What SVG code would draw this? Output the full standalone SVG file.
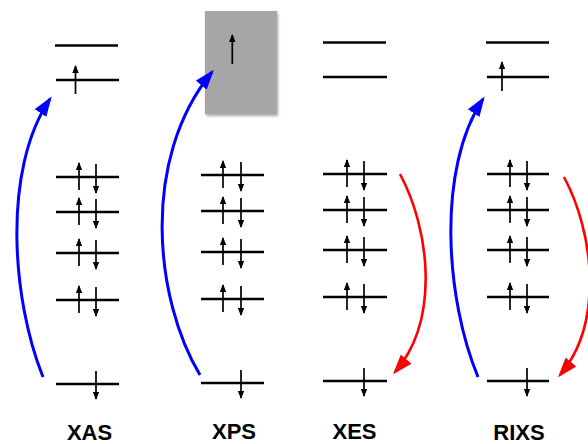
<svg xmlns="http://www.w3.org/2000/svg" width="588" height="444" viewBox="0 0 588 444">
<style>
.lv{stroke:#000;stroke-width:2.6;fill:none}
.sp{stroke:#000;stroke-width:1.7;fill:none;marker-end:url(#sh)}
.bl{stroke:#0000ff;stroke-width:3;fill:none;marker-end:url(#hb)}
.rd{stroke:#ff0000;stroke-width:2.6;fill:none;marker-end:url(#hr)}
.lb{font-family:"Liberation Sans",Arial,sans-serif;font-weight:bold;font-size:22px;fill:#000;text-anchor:middle}
</style>
<defs>
<marker id="sh" markerUnits="userSpaceOnUse" viewBox="0 0 8 6.5" markerWidth="8" markerHeight="6.5" refX="7" refY="3.25" orient="auto"><path d="M0,0 L8,3.25 L0,6.5 z" fill="#000"/></marker>
<marker id="hb" markerUnits="userSpaceOnUse" viewBox="0 0 20 14" markerWidth="20" markerHeight="14" refX="17" refY="7" orient="auto"><path d="M0,0 L20,7 L0,14 z" fill="#0000ff"/></marker>
<marker id="hr" markerUnits="userSpaceOnUse" viewBox="0 0 20 14" markerWidth="20" markerHeight="14" refX="17" refY="7" orient="auto"><path d="M0,0 L20,7 L0,14 z" fill="#ff0000"/></marker>
<filter id="ds" x="-20%" y="-20%" width="140%" height="140%"><feDropShadow dx="1" dy="2" stdDeviation="1.5" flood-color="#000" flood-opacity="0.35"/></filter>
</defs>

<g id="xas">
<line class="lv" x1="55" y1="45.5" x2="118" y2="45.5"/>
<line class="lv" x1="56" y1="80" x2="119" y2="80"/>
<line class="sp" x1="75.5" y1="94" x2="75.5" y2="66"/>
<line class="lv" x1="56" y1="177" x2="119" y2="177"/>
<line class="sp" x1="79" y1="190" x2="79" y2="163"/><line class="sp" x1="96" y1="164" x2="96" y2="193"/>
<line class="lv" x1="56" y1="212" x2="119" y2="212"/>
<line class="sp" x1="79" y1="225" x2="79" y2="198"/><line class="sp" x1="96" y1="199" x2="96" y2="228"/>
<line class="lv" x1="56" y1="253" x2="119" y2="253"/>
<line class="sp" x1="79" y1="266" x2="79" y2="239"/><line class="sp" x1="96" y1="240" x2="96" y2="269"/>
<line class="lv" x1="56" y1="300" x2="119" y2="300"/>
<line class="sp" x1="79" y1="313" x2="79" y2="286"/><line class="sp" x1="96" y1="287" x2="96" y2="316"/>
<line class="lv" x1="56" y1="384" x2="119" y2="384"/>
<line class="sp" x1="96" y1="371" x2="96" y2="399"/>
<text class="lb" x="89.5" y="440">XAS</text>
</g>

<g id="xps">
<rect x="205" y="11" width="72" height="103" fill="#a6a6a6" filter="url(#ds)"/>
<line class="sp" x1="232.3" y1="64" x2="232.3" y2="35"/>
<line class="lv" x1="201" y1="175" x2="264" y2="175"/>
<line class="sp" x1="223" y1="188" x2="223" y2="161"/><line class="sp" x1="241" y1="162" x2="241" y2="191"/>
<line class="lv" x1="201" y1="211" x2="264" y2="211"/>
<line class="sp" x1="223" y1="224" x2="223" y2="197"/><line class="sp" x1="241" y1="198" x2="241" y2="227"/>
<line class="lv" x1="201" y1="252" x2="264" y2="252"/>
<line class="sp" x1="223" y1="265" x2="223" y2="238"/><line class="sp" x1="241" y1="239" x2="241" y2="268"/>
<line class="lv" x1="201" y1="299" x2="264" y2="299"/>
<line class="sp" x1="223" y1="312" x2="223" y2="285"/><line class="sp" x1="241" y1="286" x2="241" y2="315"/>
<line class="lv" x1="201" y1="383" x2="264" y2="383"/>
<line class="sp" x1="241" y1="370" x2="241" y2="398"/>
<text class="lb" x="234" y="439">XPS</text>
</g>

<g id="xes">
<line class="lv" x1="323" y1="42.5" x2="386" y2="42.5"/>
<line class="lv" x1="323" y1="77" x2="387" y2="77"/>
<line class="lv" x1="323" y1="174" x2="387" y2="174"/>
<line class="sp" x1="347" y1="187" x2="347" y2="160"/><line class="sp" x1="364" y1="161" x2="364" y2="190"/>
<line class="lv" x1="323" y1="210" x2="387" y2="210"/>
<line class="sp" x1="347" y1="223" x2="347" y2="196"/><line class="sp" x1="364" y1="197" x2="364" y2="226"/>
<line class="lv" x1="323" y1="250" x2="387" y2="250"/>
<line class="sp" x1="347" y1="263" x2="347" y2="236"/><line class="sp" x1="364" y1="237" x2="364" y2="266"/>
<line class="lv" x1="323" y1="297" x2="387" y2="297"/>
<line class="sp" x1="347" y1="310" x2="347" y2="283"/><line class="sp" x1="364" y1="284" x2="364" y2="313"/>
<line class="lv" x1="323" y1="381" x2="387" y2="381"/>
<line class="sp" x1="364" y1="368" x2="364" y2="396"/>
<text class="lb" x="354.5" y="439">XES</text>
</g>

<g id="rixs">
<line class="lv" x1="486" y1="42.5" x2="549" y2="42.5"/>
<line class="lv" x1="487" y1="77" x2="549" y2="77"/>
<line class="sp" x1="502" y1="91" x2="502" y2="62"/>
<line class="lv" x1="487" y1="174" x2="549" y2="174"/>
<line class="sp" x1="510" y1="187" x2="510" y2="160"/><line class="sp" x1="527" y1="161" x2="527" y2="190"/>
<line class="lv" x1="487" y1="210" x2="549" y2="210"/>
<line class="sp" x1="510" y1="223" x2="510" y2="196"/><line class="sp" x1="527" y1="197" x2="527" y2="226"/>
<line class="lv" x1="487" y1="250" x2="549" y2="250"/>
<line class="sp" x1="510" y1="263" x2="510" y2="236"/><line class="sp" x1="527" y1="237" x2="527" y2="266"/>
<line class="lv" x1="487" y1="297" x2="549" y2="297"/>
<line class="sp" x1="510" y1="310" x2="510" y2="283"/><line class="sp" x1="527" y1="284" x2="527" y2="313"/>
<line class="lv" x1="487" y1="381" x2="549" y2="381"/>
<line class="sp" x1="527" y1="368" x2="527" y2="396"/>
<text class="lb" x="519" y="440">RIXS</text>
</g>

<g id="connectors">
<path class="bl" d="M43,377 C12,300 2,170 50,99"/>
<path class="bl" d="M200,375 C155,300 140,160 212,72"/>
<path class="rd" d="M400,174 C430,230 440,320 395,372"/>
<path class="bl" d="M478,377 C446,300 436,170 483,99"/>
<path class="rd" d="M564,177 C594,233 604,323 560,375"/>
</g>
</svg>
